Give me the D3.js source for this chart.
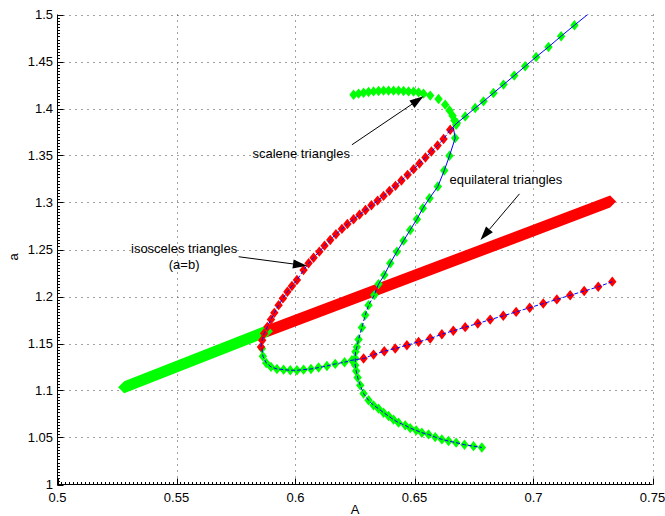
<!DOCTYPE html>
<html><head><meta charset="utf-8">
<script src="https://cdn.jsdelivr.net/npm/d3@7"></script>
<style>body{margin:0;background:#fff}svg{display:block;font-family:"Liberation Sans",Arial,Helvetica,sans-serif}</style>
</head><body><svg id="c" width="665" height="516"></svg>
<script>
// ---------- data ----------
const xTicks=[0.5,0.55,0.6,0.65,0.7,0.75];
const yTicks=[1,1.05,1.1,1.15,1.2,1.25,1.3,1.35,1.4,1.45,1.5];
const xTickLabels=["0.5","0.55","0.6","0.65","0.7","0.75"];
const yTickLabels=["1","1.05","1.1","1.15","1.2","1.25","1.3","1.35","1.4","1.45","1.5"];
// equilateral triangles (dense marker band): start / end of each coloured part
const equiGreenX=[0.528,0.588], equiGreenY=[1.1035,1.163];
const equiRedX=[0.588,0.7322], equiRedY=[1.163,1.301];
// scalene arc (green, no line)
const g1X=[0.6244,0.6265,0.6286,0.6307,0.6328,0.6349,0.6370,0.6391,0.6412,0.6433,0.6454,0.6475,0.6496,0.6517,0.6538,0.6566,0.6601,0.6629,0.6647,0.6660,0.6668,0.6675];
const g1Y=[1.4147,1.4158,1.4168,1.4176,1.4182,1.4186,1.4190,1.4190,1.4190,1.4190,1.4186,1.4182,1.4179,1.4172,1.4158,1.4137,1.4101,1.4041,1.3980,1.3923,1.3873,1.3827];
// steep scalene branch (green + blue line)
const g2X=[0.6663,0.6671,0.6647,0.6625,0.6598,0.6563,0.6535,0.6510,0.6482,0.6454,0.6426,0.6398,0.6373,0.6349,0.6331,0.6307,0.6293,0.6279,0.6265,0.6258,0.6252,0.6251,0.6251,0.6255,0.6261,0.6272,0.6286,0.6307,0.6328,0.6349,0.6370,0.6391,0.6412,0.6433,0.6461,0.6482,0.6507,0.6531,0.6559,0.6587,0.6615,0.6643,0.6675,0.6710,0.6748,0.6783];
const g2Y=[1.3800,1.3685,1.3497,1.3340,1.3170,1.3046,1.2939,1.2822,1.2708,1.2594,1.2477,1.2353,1.2228,1.2132,1.2015,1.1908,1.1802,1.1670,1.1543,1.1464,1.1411,1.1340,1.1269,1.1208,1.1137,1.1055,1.0967,1.0896,1.0842,1.0807,1.0764,1.0728,1.0690,1.0658,1.0629,1.0600,1.0576,1.0551,1.0533,1.0504,1.0480,1.0462,1.0445,1.0423,1.0408,1.0394];
// lower-left green arc
const g3X=[0.5859,0.5863,0.5877,0.5897,0.5922,0.5950,0.5978,0.6006,0.6034,0.6065,0.6097,0.6132,0.6167,0.6206,0.6237];
const g3Y=[1.1446,1.1365,1.1293,1.1251,1.1229,1.1222,1.1215,1.1215,1.1222,1.1229,1.1244,1.1261,1.1283,1.1301,1.1322];
// upper-right branch (green + blue line), tail value only reaches the frame
const g4X=[0.6678,0.6713,0.6755,0.6790,0.6832,0.6874,0.6919,0.6965,0.7011,0.7063,0.7116,0.7172];
const g4Y=[1.3845,1.3916,1.4005,1.4076,1.4165,1.4254,1.4350,1.4449,1.4548,1.4655,1.4769,1.4886];
const g4TailX=[0.7235], g4TailY=[1.5015];
// isosceles (a=b), red + blue line
const r1X=[0.5855,0.5860,0.5868,0.5882,0.5897,0.5911,0.5929,0.5947,0.5966,0.5985,0.6006,0.6034,0.6055,0.6076,0.6100,0.6122,0.6146,0.6170,0.6195,0.6218,0.6244,0.6269,0.6294,0.6319,0.6345,0.6370,0.6395,0.6420,0.6445,0.6471,0.6496,0.6521,0.6546,0.6571,0.6597,0.6622,0.6650];
const r1Y=[1.1464,1.1535,1.1606,1.1677,1.1756,1.1826,1.1908,1.1980,1.2050,1.2111,1.2175,1.2281,1.2353,1.2413,1.2477,1.2541,1.2601,1.2662,1.2719,1.2772,1.2822,1.2871,1.2921,1.2971,1.3020,1.3070,1.3124,1.3177,1.3234,1.3294,1.3355,1.3415,1.3479,1.3543,1.3607,1.3675,1.3774];
// lower isosceles branch, red + blue line
const r2X=[0.6286,0.6328,0.6373,0.6419,0.6468,0.6517,0.6566,0.6615,0.6663,0.6713,0.6766,0.6818,0.6873,0.6927,0.6984,0.7041,0.7098,0.7154,0.7213,0.7272,0.7331];
const r2Y=[1.1340,1.1382,1.1418,1.1447,1.1482,1.1517,1.1553,1.1599,1.1636,1.1674,1.1713,1.1754,1.1795,1.1836,1.1881,1.1925,1.1969,1.2013,1.2058,1.2103,1.2158];
// annotations (data units)
const labels=[
 {text:"scalene triangles",x:0.6024,y:1.3475},
 {text:"equilateral triangles",x:0.6884,y:1.3198},
 {text:"isosceles triangles",x:0.5532,y:1.2459},
 {text:"(a=b)",x:0.5532,y:1.2289}
];
const arrows=[
 {x0:0.6237,y0:1.3614,x1:0.6538,y1:1.4129},
 {x0:0.6941,y0:1.3092,x1:0.6777,y1:1.2601},
 {x0:0.5761,y0:1.2423,x1:0.6048,y1:1.2327}
];

// ---------- drawing ----------
const svg=d3.select("#c");
const L=57.5,R=652.5,T=14.5,B=484.5;
const x=d3.scaleLinear().domain([0.5,0.75]).range([L,R]);
const y=d3.scaleLinear().domain([1,1.5]).range([B,T]);
const zip=(a,b)=>a.map((v,i)=>[v,b[i]]);

svg.append("defs").append("clipPath").attr("id","clip")
  .append("rect").attr("x",L).attr("y",T).attr("width",R-L).attr("height",B-T);

// grid
const grid=svg.append("g").attr("stroke","#444").attr("stroke-width",1).attr("stroke-dasharray","1,5");
xTicks.slice(1).forEach(t=>grid.append("line").attr("x1",Math.round(x(t))+0.5).attr("x2",Math.round(x(t))+0.5).attr("y1",T).attr("y2",B));
yTicks.slice(1).forEach(t=>grid.append("line").attr("y1",Math.round(y(t))+0.5).attr("y2",Math.round(y(t))+0.5).attr("x1",L).attr("x2",R));

const plot=svg.append("g").attr("clip-path","url(#clip)");

// equilateral bands: hull of the diamond markers at both ends
const er=6;
function band(xs,ys,color){
  const pts=[];
  xs.forEach((v,i)=>{const cx=x(v),cy=y(ys[i]);pts.push([cx-er,cy],[cx+er,cy],[cx,cy-er],[cx,cy+er]);});
  plot.append("path").attr("d","M"+d3.polygonHull(pts).join("L")+"Z").attr("fill",color);
}
band(equiRedX,equiRedY,"#ff0000");
band(equiGreenX,equiGreenY,"#00ff00");

const mw=4.2,mh=5.2;
function diamonds(xs,ys,color){
  plot.append("g").selectAll("path").data(zip(xs,ys)).join("path")
    .attr("d",d=>{const cx=x(d[0]),cy=y(d[1]);return `M${cx},${cy-mh}L${cx+mw},${cy}L${cx},${cy+mh}L${cx-mw},${cy}Z`;})
    .attr("fill",color);
}
diamonds(g3X,g3Y,"#00ff00");
diamonds(r1X,r1Y,"#ff0000");
diamonds(r2X,r2Y,"#ff0000");
diamonds(g1X,g1Y,"#00ff00");
diamonds(g2X.slice(1),g2Y.slice(1),"#00ff00");
diamonds(g4X,g4Y,"#00ff00");

const line=d3.line().x(d=>x(d[0])).y(d=>y(d[1]));
function blue(pts,dash){
  plot.append("path").attr("d",line(pts)).attr("fill","none").attr("stroke","#0000ff")
    .attr("stroke-width",1).attr("stroke-dasharray",dash);
}
blue(zip(g3X,g3Y).concat(zip(r2X,r2Y)),"4,2");
blue(zip(r1X,r1Y),"4,2");
blue(zip(r1X,r1Y).slice(-1).concat(zip(g4X,g4Y)).concat(zip(g4TailX,g4TailY)),null);
blue(zip(g2X,g2Y).slice(0,14),null);
blue(zip(g2X,g2Y).slice(13),"4,2");

// axes
const ax=svg.append("g").attr("stroke","#000").attr("stroke-width",1);
ax.append("line").attr("x1",L).attr("x2",L).attr("y1",T).attr("y2",B+0.5);
ax.append("line").attr("x1",L-0.5).attr("x2",R).attr("y1",B).attr("y2",B);
d3.range(0,151).map(i=>0.5+i*0.05/30).forEach(t=>{const px=Math.round(x(t))+0.5;ax.append("line").attr("x1",px).attr("x2",px).attr("y1",B).attr("y2",B-2.5);});
d3.range(0,151).map(i=>1+i*0.05/15).forEach(t=>{const py=Math.round(y(t))+0.5;ax.append("line").attr("y1",py).attr("y2",py).attr("x1",L).attr("x2",L+2.5);});
xTicks.forEach(t=>{const px=Math.round(x(t))+0.5;ax.append("line").attr("x1",px).attr("x2",px).attr("y1",B).attr("y2",B-6);});
yTicks.forEach(t=>{const py=Math.round(y(t))+0.5;ax.append("line").attr("y1",py).attr("y2",py).attr("x1",L).attr("x2",L+6);});

const tx=svg.append("g").attr("font-size",13).attr("fill","#000");
xTicks.forEach((t,i)=>tx.append("text").attr("x",x(t)).attr("y",502).attr("text-anchor","middle").text(xTickLabels[i]));
yTicks.forEach((t,i)=>tx.append("text").attr("x",53).attr("y",y(t)).attr("dy","0.33em").attr("text-anchor","end").text(yTickLabels[i]));
tx.append("text").attr("x",(L+R)/2).attr("y",514).attr("text-anchor","middle").text("A");
tx.append("text").attr("transform",`translate(18,257) rotate(-90)`).attr("text-anchor","middle").text("a");

// annotations
labels.forEach(l=>tx.append("text").attr("x",x(l.x)).attr("y",y(l.y)).attr("text-anchor","middle").text(l.text));
const an=svg.append("g");
arrows.forEach(a=>{
  const x0=x(a.x0),y0=y(a.y0),x1=x(a.x1),y1=y(a.y1);
  const ang=Math.atan2(y1-y0,x1-x0),len=14,hw=4.5;
  const bx=x1-len*Math.cos(ang),by=y1-len*Math.sin(ang);
  an.append("line").attr("x1",x0).attr("y1",y0).attr("x2",bx).attr("y2",by).attr("stroke","#000").attr("stroke-width",1);
  const px=-Math.sin(ang)*hw,py=Math.cos(ang)*hw;
  an.append("path").attr("d",`M${x1},${y1}L${bx+px},${by+py}L${bx-px},${by-py}Z`).attr("fill","#000");
});
</script></body></html>
